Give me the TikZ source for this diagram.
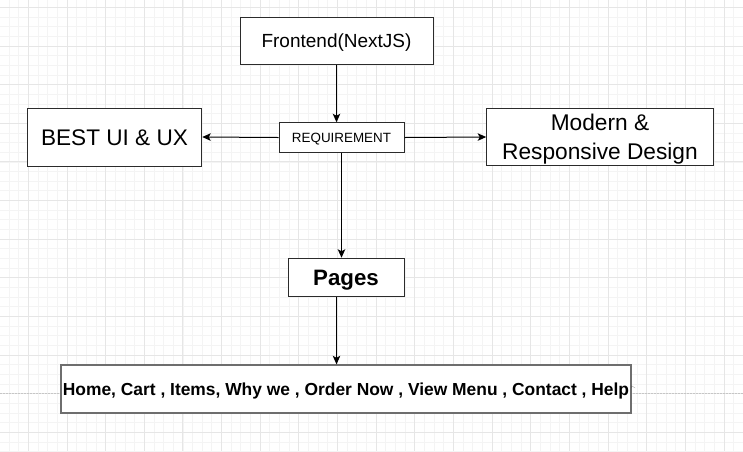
\documentclass[tikz,border=0pt]{standalone}
\usepackage{fontspec}
\setmainfont{Liberation Sans}
\usetikzlibrary{arrows.meta,calc}
\definecolor{gridminor}{HTML}{F4F4F4}
\definecolor{gridmajor}{HTML}{E6E6E6}
\definecolor{boxline}{HTML}{2B2B2B}
\definecolor{greyline}{HTML}{6E6E6E}
\begin{document}
\begin{tikzpicture}[x=1pt,y=-1pt,
  box/.style={draw=boxline,line width=1pt,fill=white,inner sep=0pt,align=center,text=black,text depth=0pt},
  conn/.style={draw=black,line width=1pt,-{Stealth[length=8.5pt,width=7.5pt,inset=2pt]}}]
\useasboundingbox (0,0) rectangle (743,451);
\fill[white] (0,0) rectangle (743,451);
% grid
\foreach \k in {-2,...,74}{
  \pgfmathsetmacro{\xx}{28.3+\k*9.6625}
  \draw[gridminor,line width=0.8pt] (\xx,0) -- (\xx,451);
}
\foreach \k in {0,...,46}{
  \pgfmathsetmacro{\yy}{7.3+\k*9.6625}
  \draw[gridminor,line width=0.8pt] (0,\yy) -- (743,\yy);
}
\foreach \k in {-1,...,19}{
  \pgfmathsetmacro{\xx}{28.3+\k*38.65}
  \draw[gridmajor,line width=0.9pt] (\xx,0) -- (\xx,451);
}
\foreach \k in {0,...,11}{
  \pgfmathsetmacro{\yy}{7.3+\k*38.65}
  \draw[gridmajor,line width=0.9pt] (0,\yy) -- (743,\yy);
}
\draw[gray!45,line width=0.8pt,dash pattern=on 1.5pt off 1.5pt] (0,393.3) -- (743,393.3);
% nodes
\node[box,text height=13.6pt,minimum width=193pt,minimum height=47pt,font=\fontsize{19}{23}\selectfont] (front) at (336.5,40.5) {Frontend(NextJS)};
\node[box,text height=9.6pt,minimum width=125pt,minimum height=29.5pt,font=\fontsize{13.4}{16}\selectfont] (req) at (341.5,137.5) {REQUIREMENT};
\node[box,text height=16.2pt,minimum width=174.5pt,minimum height=58pt,font=\fontsize{22.6}{27}\selectfont] (best) at (114.5,137) {BEST UI \& UX};
\node[box,text height=45.25pt,minimum width=226.6pt,minimum height=57.4pt,font=\fontsize{22.7}{29}\selectfont] (modern) at (600,137) {Modern \&\\Responsive Design};
\node[box,text height=16pt,minimum width=116pt,minimum height=38.5pt,font=\fontsize{22.3}{27}\bfseries] (pages) at (346,277.5) {Pages};
\node[box,text height=12.5pt,draw=greyline,line width=1.4pt,minimum width=570pt,minimum height=48pt,font=\fontsize{17.4}{21}\bfseries] (list) at (346,389) {Home, Cart , Items, Why we , Order Now , View Menu , Contact , Help};
% connectors
\draw[conn] (front.south) -- (front.south |- req.north);
\draw[conn] (req.west) -- (best.east);
\draw[conn] (req.east) -- (modern.east -| modern.west);
\draw[conn] (req.south) -- (req.south |- pages.north);
\draw[conn] ([xshift=-9.5pt]pages.south) -- ([xshift=-9.5pt]pages.south |- list.north);
\coordinate (tip) at ([xshift=3.5pt,yshift=1pt]list.east);
\fill[black] ([yshift=1pt]list.east) -- ++(0,-2.2) -- (tip) -- ([yshift=3.2pt]list.east) -- cycle;
\end{tikzpicture}
\end{document}
